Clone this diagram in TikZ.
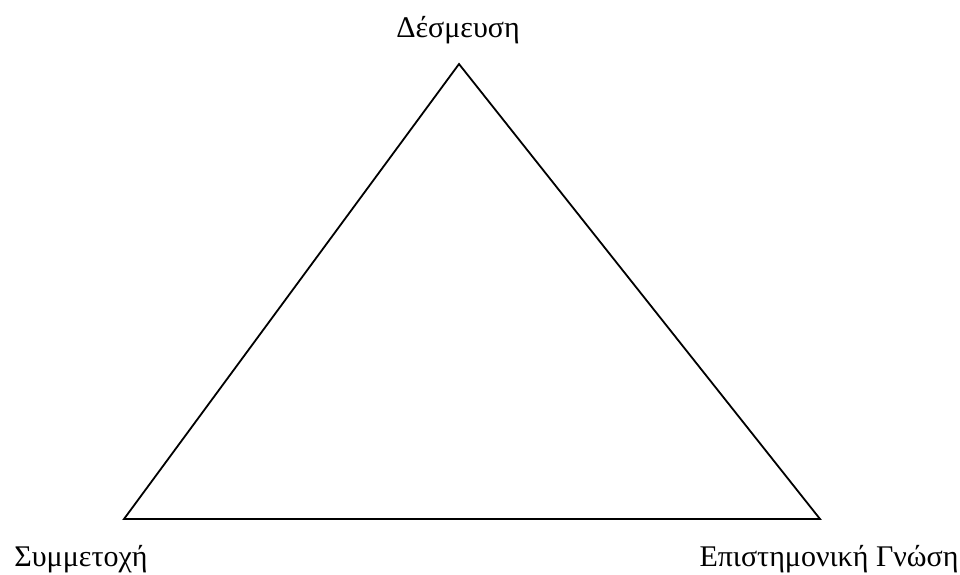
\documentclass[tikz,border=0pt]{standalone}
\usepackage{fontspec}
\setmainfont{Liberation Serif}
\begin{document}
\begin{tikzpicture}[x=1pt,y=-1pt,
  lbl/.style={anchor=base,inner sep=0pt,font=\fontsize{30}{34}\selectfont},
  edge/.style={draw=black,line width=1.8pt,line join=miter}]
\useasboundingbox (0,0) rectangle (960,574);
\coordinate (A) at (459,64);
\coordinate (B) at (124,519);
\coordinate (C) at (820,519);
\draw[edge] (A) -- (B) -- (C) -- cycle;
\node[lbl] (ta) at (458,37) {Δέσμευση};
\node[lbl] (tb) at (81,566) {Συμμετοχή};
\node[lbl] (tc) at (829,566) {Επιστημονική Γνώση};
\end{tikzpicture}
\end{document}
